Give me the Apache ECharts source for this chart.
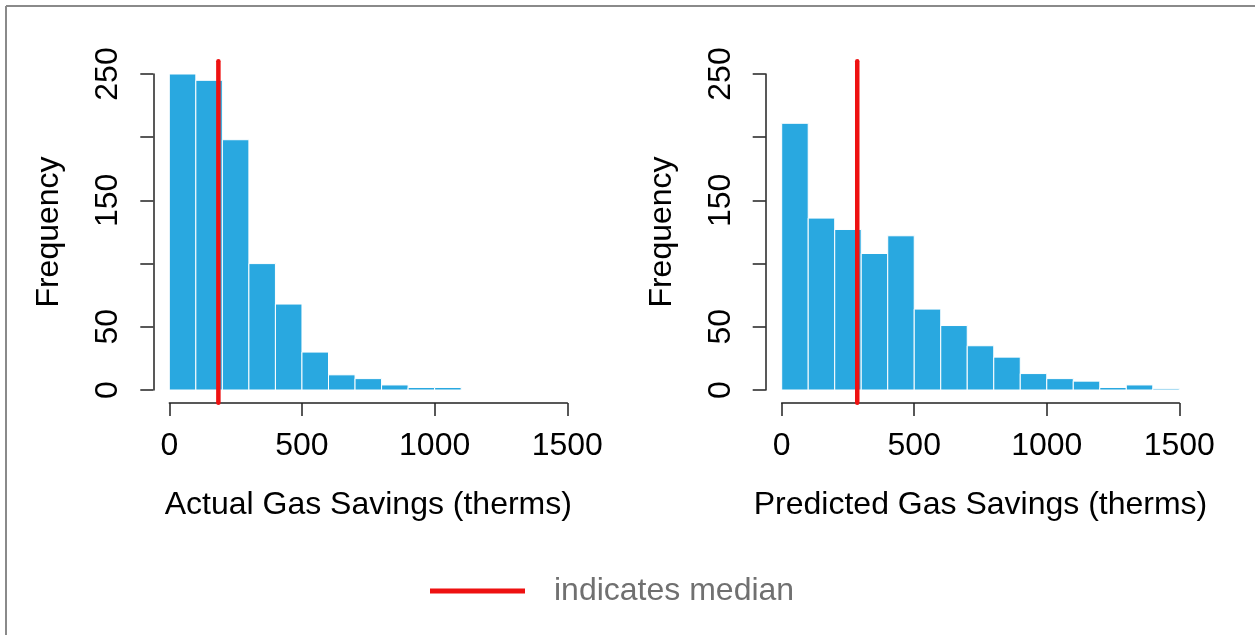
<!DOCTYPE html>
<html>
<head>
<meta charset="utf-8">
<script src="https://cdn.jsdelivr.net/npm/echarts@6/dist/echarts.min.js"></script>
<style>
html,body{margin:0;padding:0;background:#fff;}
#chart{width:1255px;height:635px;}
</style>
</head>
<body>
<div id="chart"></div>
<script>
// ---- data ----
const actualBreaks = [0,100,200,300,400,500,600,700,800,900,1000,1100];
const actualCounts = [250,245,198,100,68,30,12,9,4,2,2];
const predictedBreaks = [0,100,200,300,400,500,600,700,800,900,1000,1100,1200,1300,1400,1500];
const predictedCounts = [211,136,127,108,122,64,51,35,26,13,9,7,2,4,1];
const medians = [185, 285];
const xTicks = [0, 500, 1000, 1500];
const yTickLabels = ['0','50','150','250'];
const xTitles = ['Actual Gas Savings (therms)', 'Predicted Gas Savings (therms)'];
const yTitle = 'Frequency';
const legendLabel = 'indicates median';

const FONT = '"Liberation Sans", Arial, Helvetica, sans-serif';
const BAR = '#29A8E0';
const RED = '#EE1111';
const AX = '#222';

function histData(breaks, counts){
  return counts.map((c,i)=>[breaks[i], breaks[i+1], c]);
}
const yMax = 250, yPad = yMax*0.04;

function xAxisFor(i){
  return {
    type:'value', gridIndex:i, min:xTicks[0], max:xTicks[xTicks.length-1], interval:500,
    position:'bottom', offset:13,
    axisLine:{show:true, onZero:false, lineStyle:{color:AX, width:1.5}},
    axisTick:{show:true, length:13, lineStyle:{color:AX, width:1.5}},
    axisLabel:{fontSize:32, color:'#000', fontFamily:FONT, margin:27, formatter:v=>String(v)},
    splitLine:{show:false},
    name:xTitles[i], nameLocation:'middle', nameGap:86,
    nameTextStyle:{fontSize:32, color:'#000', fontFamily:FONT}
  };
}
function yAxisFor(i){
  return {
    type:'value', gridIndex:i, min:0, max:yMax, interval:50,
    position:'left', offset:16,
    axisLine:{show:true, onZero:false, lineStyle:{color:AX, width:1.5}},
    axisTick:{show:true, length:13, lineStyle:{color:AX, width:1.5}},
    axisLabel:{fontSize:32, color:'#000', fontFamily:FONT, rotate:90, margin:29,
      formatter:v=> yTickLabels.includes(String(v)) ? String(v) : ''},
    splitLine:{show:false},
    name:yTitle, nameLocation:'middle', nameGap:88,
    nameTextStyle:{fontSize:32, color:'#000', fontFamily:FONT}
  };
}
function histSeries(i, breaks, counts){
  return {
    type:'custom', xAxisIndex:i, yAxisIndex:i,
    data:histData(breaks, counts),
    encode:{x:[0,1], y:2},
    renderItem:(params, api)=>{
      const p0 = api.coord([api.value(0), 0]);
      const p1 = api.coord([api.value(1), api.value(2)]);
      return {type:'rect', shape:{x:p0[0], y:p1[1], width:p1[0]-p0[0], height:p0[1]-p1[1]},
        style:{fill:BAR, stroke:'#fff', lineWidth:1}};
    },
    silent:true
  };
}
function medianSeries(i){
  return {
    type:'custom', name:legendLabel, xAxisIndex:i, yAxisIndex:i,
    data:[[medians[i]]], encode:{x:0}, clip:false,
    itemStyle:{color:RED},
    renderItem:(params, api)=>{
      const a = api.coord([api.value(0), -yPad]);
      const b = api.coord([api.value(0), yMax+yPad]);
      return {type:'line', shape:{x1:a[0], y1:a[1], x2:b[0], y2:b[1]},
        style:{stroke:RED, lineWidth:4.5, lineCap:'round'}};
    },
    z:5
  };
}

const chart = echarts.init(document.getElementById('chart'), null, {renderer:'canvas'});
chart.setOption({
  backgroundColor:'#fff',
  animation:false,
  textStyle:{fontFamily:FONT},
  grid:[
    {left:169.3, top:74, width:398, height:316},
    {left:781.7, top:74, width:397.6, height:316}
  ],
  xAxis:[xAxisFor(0), xAxisFor(1)],
  yAxis:[yAxisFor(0), yAxisFor(1)],
  legend:{
    data:[{name:legendLabel, icon:'rect'}],
    left:425, top:570, itemWidth:95, itemHeight:5, selectedMode:false,
    textStyle:{fontSize:32, color:'#707070', fontFamily:FONT, padding:[0,0,0,24]}
  },
  graphic:[
    {type:'line', shape:{x1:6, y1:6, x2:1255, y2:6}, style:{stroke:'#8a8a8a', lineWidth:2}, silent:true},
    {type:'line', shape:{x1:6, y1:6, x2:6, y2:635}, style:{stroke:'#8a8a8a', lineWidth:2}, silent:true}
  ],
  series:[
    histSeries(0, actualBreaks, actualCounts),
    histSeries(1, predictedBreaks, predictedCounts),
    medianSeries(0),
    medianSeries(1)
  ]
});
</script>
</body>
</html>
